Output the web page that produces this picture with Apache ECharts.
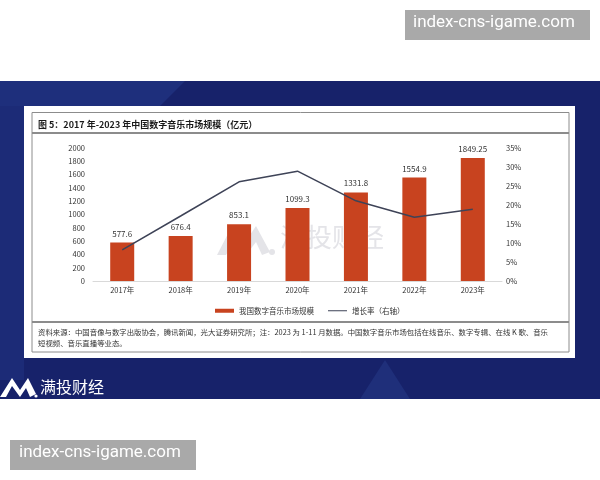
<!DOCTYPE html>
<html>
<head>
<meta charset="utf-8">
<script src="https://cdn.jsdelivr.net/npm/echarts@6/dist/echarts.min.js"></script>
<style>html,body{margin:0;padding:0;background:#fff;}#c{width:600px;height:480px;}</style>
</head>
<body>
<div id="c"></div>
<script>
var categories = ['2017年','2018年','2019年','2020年','2021年','2022年','2023年'];
var marketSize = [577.6, 676.4, 853.1, 1099.3, 1331.8, 1554.9, 1849.25];
var growthRate = [8.2, 17.1, 26.1, 28.9, 21.1, 16.8, 18.9];
var titleText = '图 5：2017 年-2023 年中国数字音乐市场规模（亿元）';
var sourceLine1 = '资料来源：中国音像与数字出版协会，腾讯新闻，光大证券研究所；注：2023 为 1-11 月数据。中国数字音乐市场包括在线音乐、数字专辑、在线 K 歌、音乐';
var sourceLine2 = '短视频、音乐直播等业态。';
var legendNames = ['我国数字音乐市场规模', '增长率（右轴）'];
var watermark = 'index-cns-igame.com';
var brand = '满投财经';

var FONT = '"Noto Sans CJK SC", "Noto Sans", sans-serif';
var chart = echarts.init(document.getElementById('c'), null, {renderer: 'canvas'});

var option = {
  backgroundColor: '#ffffff',
  animation: false,
  textStyle: {fontFamily: FONT},
  graphic: [
    // blue band
    {type: 'rect', z: -10, shape: {x: 0, y: 81, width: 600, height: 318}, style: {fill: '#17226a'}},
    {type: 'polygon', z: -9, shape: {points: [[0,81],[185,81],[160,106],[0,106]]}, style: {fill: '#1e2f7c'}},
    {type: 'polygon', z: -9, shape: {points: [[0,106],[24,106],[24,380],[0,380]]}, style: {fill: '#1c2b77'}},
    {type: 'polygon', z: -9, shape: {points: [[385,360],[410,399],[360,399]]}, style: {fill: '#1f2f7a'}},
    // white panel
    {type: 'rect', z: -8, shape: {x: 24, y: 106, width: 551, height: 252}, style: {fill: '#ffffff'}},
    {type: 'rect', z: -7, shape: {x: 32, y: 112.5, width: 537, height: 239.5}, style: {fill: '#ffffff', stroke: '#8c8c8c', lineWidth: 1}},
    {type: 'line', z: -6, shape: {x1: 32, y1: 133, x2: 569, y2: 133}, style: {stroke: '#8c8c8c', lineWidth: 2}},
    {type: 'line', z: -6, shape: {x1: 32, y1: 322, x2: 569, y2: 322}, style: {stroke: '#8c8c8c', lineWidth: 2}},
    {type: 'text', z: -5, left: 38, top: 120, style: {text: titleText, font: 'bold 9px ' + FONT, fill: '#1a1a1a'}},
    {type: 'text', z: -5, left: 38, top: 328, style: {text: sourceLine1, font: '7.4px ' + FONT, fill: '#333'}},
    {type: 'text', z: -5, left: 38, top: 339, style: {text: sourceLine2, font: '7.4px ' + FONT, fill: '#333'}},
    // faint centre watermark
    {type: 'text', z: -5, left: 280, top: 224, style: {text: brand, font: '26px ' + FONT, fill: '#e4e4e8'}},
    {type: 'polygon', z: -5, shape: {points: [[217,255],[232,226],[244,244],[256,226],[270,252],[262,255],[256,242],[246,255],[234,240],[226,255]]}, style: {fill: '#e4e4e8'}},
    {type: 'circle', z: -5, shape: {cx: 272, cy: 252, r: 3}, style: {fill: '#e4e4e8'}},
    // bottom brand
    {type: 'polygon', z: 3, shape: {points: [[0,397],[12,378],[20,390],[28,378],[36,394],[30,397],[26,388],[20,397],[12,386],[6,397]]}, style: {fill: '#ffffff'}},
    {type: 'circle', z: 3, shape: {cx: 36, cy: 396, r: 1.6}, style: {fill: '#ffffff'}},
    {type: 'text', z: 3, left: 40, top: 379, style: {text: brand, font: '16px ' + FONT, fill: '#ffffff'}},
    // watermark boxes
    {type: 'rect', z: 5, shape: {x: 405, y: 10, width: 185, height: 30}, style: {fill: '#a9a9a9'}},
    {type: 'text', z: 6, left: 413, top: 14, style: {text: watermark, font: '17px Roboto, sans-serif', fill: '#ffffff'}},
    {type: 'rect', z: 5, shape: {x: 10, y: 440, width: 186, height: 30}, style: {fill: '#a9a9a9'}},
    {type: 'text', z: 6, left: 19, top: 444, style: {text: watermark, font: '17px Roboto, sans-serif', fill: '#ffffff'}}
  ],
  grid: {left: 93, right: 98, top: 148, bottom: 199, containLabel: false},
  legend: {
    top: 302, left: 210, itemGap: 14, itemWidth: 19, itemHeight: 4, z: 10,
    textStyle: {fontSize: 7.5, color: '#333', fontFamily: FONT},
    data: [
      {name: legendNames[0], icon: 'rect'},
      {name: legendNames[1], icon: 'path://M0,0H19V0.02H0Z M0,1.5H19V2.5H0Z M0,3.98H19V4H0Z',
        itemStyle: {color: '#3e4357', opacity: 1}}
    ]
  },
  xAxis: {
    type: 'category', data: categories, z: 10,
    axisLine: {lineStyle: {color: '#d9d9d9', width: 1}},
    axisTick: {show: false},
    axisLabel: {fontSize: 7.5, color: '#333', margin: 5, fontFamily: FONT}
  },
  yAxis: [
    {type: 'value', min: 0, max: 2000, interval: 200, z: 10,
      splitLine: {show: false}, axisLine: {show: false}, axisTick: {show: false},
      axisLabel: {show: true, fontSize: 7.5, color: '#333', margin: 8, formatter: function (v) { return String(v); }, fontFamily: FONT}},
    {type: 'value', min: 0, max: 35, interval: 5, position: 'right', z: 10,
      splitLine: {show: false}, axisLine: {show: false}, axisTick: {show: false},
      axisLabel: {show: true, fontSize: 7.5, color: '#333', margin: 4, formatter: '{value}%', fontFamily: FONT}}
  ],
  series: [
    {name: legendNames[0], type: 'bar', data: marketSize, barWidth: 24, z: 3,
      itemStyle: {color: '#c8431f'},
      label: {show: true, position: 'top', distance: 5, fontSize: 8, color: '#333', fontFamily: FONT}},
    {name: legendNames[1], type: 'line', yAxisIndex: 1, data: growthRate, symbol: 'none', z: 4,
      lineStyle: {color: '#3e4357', width: 1.5}, itemStyle: {color: '#3e4357'}}
  ]
};
chart.setOption(option);
</script>
</body>
</html>
